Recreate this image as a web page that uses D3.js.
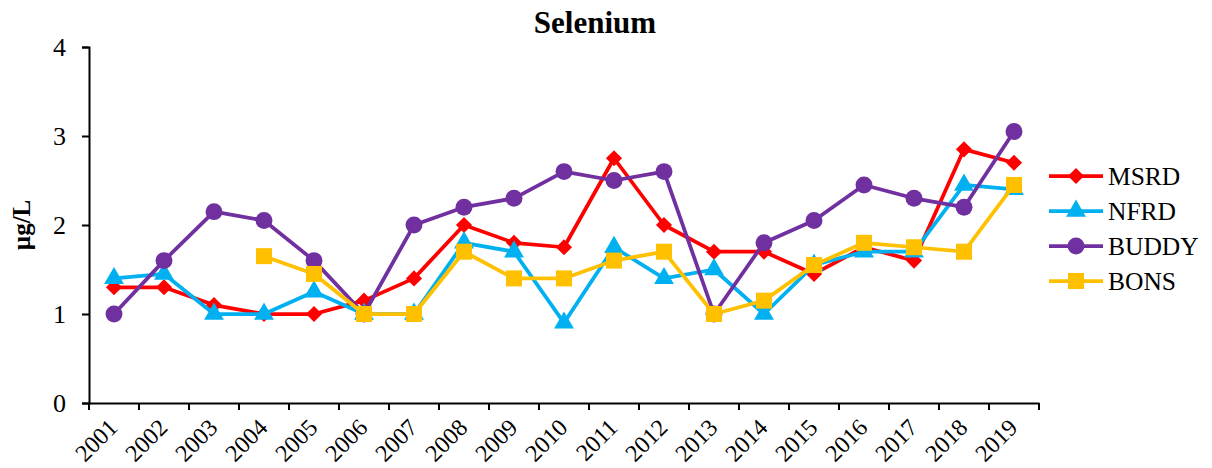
<!DOCTYPE html>
<html>
<head>
<meta charset="utf-8">
<style>
  body { margin: 0; background: #fff; }
  svg { font-family: "Liberation Serif", "Times New Roman", serif; }
  .axis path, .axis line { stroke: #000; stroke-width: 2; fill: none; }
</style>
</head>
<body>
<script src="https://cdnjs.cloudflare.com/ajax/libs/d3/7.8.5/d3.min.js"></script>
<script>
// data
var years = ["2001","2002","2003","2004","2005","2006","2007","2008","2009","2010",
             "2011","2012","2013","2014","2015","2016","2017","2018","2019"];
var msrd  = [1.3, 1.3, 1.1, 1.0, 1.0, 1.15, 1.4, 2.0, 1.8, 1.75, 2.75, 2.0, 1.7, 1.7, 1.45, 1.75, 1.6, 2.85, 2.7];
var nfrd  = [1.4, 1.45, 1.0, 1.0, 1.25, 1.0, 1.0, 1.8, 1.7, 0.9, 1.75, 1.4, 1.5, 1.0, 1.55, 1.7, 1.7, 2.45, 2.4];
var buddy = [1.0, 1.6, 2.15, 2.05, 1.6, 1.0, 2.0, 2.2, 2.3, 2.6, 2.5, 2.6, 1.0, 1.8, 2.05, 2.45, 2.3, 2.2, 3.05];
var bons  = [null, null, null, 1.65, 1.45, 1.0, 1.0, 1.7, 1.4, 1.4, 1.6, 1.7, 1.0, 1.15, 1.55, 1.8, 1.75, 1.7, 2.45];
var seriesNames = ["MSRD", "NFRD", "BUDDY", "BONS"];
var yTicks = [0, 1, 2, 3, 4];

// diamond = square turned 45deg
var series = [
  {name: seriesNames[0], values: msrd,  color: "#FF0000", symbol: d3.symbolSquare, size: 130, rot: 45},
  {name: seriesNames[1], values: nfrd,  color: "#00B0F0", symbol: d3.symbolTriangle, size: 170, rot: 0},
  {name: seriesNames[2], values: buddy, color: "#7030A0", symbol: d3.symbolCircle, size: 225, rot: 0},
  {name: seriesNames[3], values: bons,  color: "#FFC000", symbol: d3.symbolSquare, size: 256, rot: 0}
];

var W = 1212, H = 468;
var margin = {top: 47, left: 89, right: 173, bottom: 65};
var width = W - margin.left - margin.right,
    height = H - margin.top - margin.bottom;

var svg = d3.select("body").append("svg")
  .attr("width", W).attr("height", H);

var g = svg.append("g")
  .attr("transform", "translate(" + margin.left + "," + margin.top + ")");

var x = d3.scaleBand().domain(years).range([0, width]);
var y = d3.scaleLinear().domain([0, 4]).range([height, 0]);

// y axis
var yAxis = g.append("g").attr("class", "axis")
  .call(d3.axisLeft(y).tickValues(yTicks).tickFormat(d3.format("d")).tickSizeOuter(0).tickSize(7).tickPadding(16));
yAxis.selectAll(".tick text")
  .style("font-size", "26px")
  .style("font-family", "Liberation Serif, serif");

// x axis
var xAxis = g.append("g").attr("class", "axis")
  .attr("transform", "translate(0," + height + ")")
  .call(d3.axisBottom(x).tickSize(0).tickSizeOuter(0));
xAxis.selectAll(".tick line").remove();
// ticks between categories
xAxis.selectAll("line.bnd")
  .data(d3.range(years.length + 1))
  .enter().append("line")
  .attr("class", "bnd")
  .attr("x1", function(i){ return i * x.step(); })
  .attr("x2", function(i){ return i * x.step(); })
  .attr("y1", 0).attr("y2", 7)
  .attr("stroke", "#000").attr("stroke-width", 2);
xAxis.selectAll(".tick text")
  .style("font-size", "24px")
  .style("font-family", "Liberation Serif, serif")
  .style("text-anchor", "end")
  .attr("x", 0).attr("y", 0).attr("dy", 0)
  .attr("transform", "translate(5,26) rotate(-45)");

var line = d3.line()
  .defined(function(d){ return d != null; })
  .x(function(d, i){ return x(years[i]) + x.bandwidth() / 2; })
  .y(function(d){ return y(d); });

series.forEach(function(s){
  var sg = g.append("g");
  sg.append("path")
    .datum(s.values)
    .attr("fill", "none")
    .attr("stroke", s.color)
    .attr("stroke-width", 3.75)
    .attr("stroke-linejoin", "round")
    .attr("d", line);
  sg.selectAll("path.m")
    .data(s.values.map(function(v, i){ return {v: v, i: i}; }).filter(function(d){ return d.v != null; }))
    .enter().append("path")
    .attr("class", "m")
    .attr("fill", s.color)
    .attr("d", d3.symbol().type(s.symbol).size(s.size))
    .attr("transform", function(d){
      return "translate(" + (x(years[d.i]) + x.bandwidth() / 2) + "," + y(d.v) + ") rotate(" + s.rot + ")";
    });
});

// title
svg.append("text")
  .attr("x", 595).attr("y", 33)
  .attr("text-anchor", "middle")
  .style("font-size", "31px").style("font-weight", "bold")
  .text("Selenium");

// y label
svg.append("text")
  .attr("transform", "translate(30,225) rotate(-90)")
  .attr("text-anchor", "middle")
  .style("font-size", "25px").style("font-weight", "bold")
  .text("µg/L");

// legend
var leg = svg.append("g").attr("transform", "translate(1049,176)");
series.forEach(function(s, k){
  var lg = leg.append("g").attr("transform", "translate(0," + (k * 35) + ")");
  lg.append("line").attr("x1", 0).attr("x2", 54).attr("y1", 0).attr("y2", 0)
    .attr("stroke", s.color).attr("stroke-width", 3.75);
  lg.append("path").attr("fill", s.color)
    .attr("transform", "translate(27,0) rotate(" + s.rot + ")")
    .attr("d", d3.symbol().type(s.symbol).size(s.size));
  lg.append("text").attr("x", 59).attr("y", 8.5)
    .style("font-size", "25.5px")
    .text(s.name);
});
</script>
</body>
</html>
